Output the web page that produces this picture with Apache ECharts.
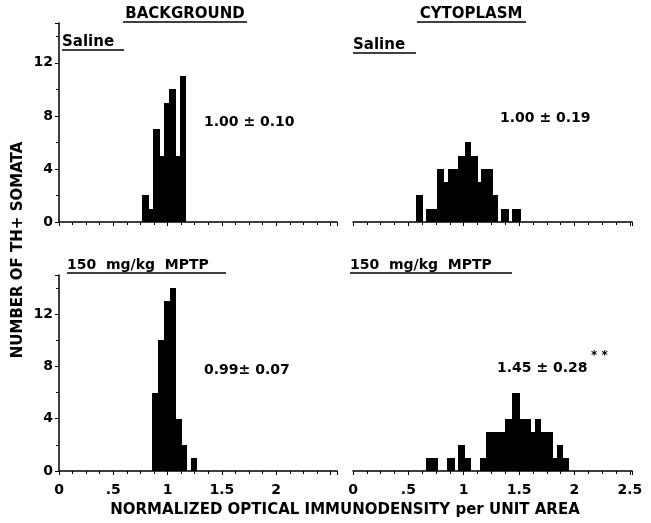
<!DOCTYPE html>
<html>
<head>
<meta charset="utf-8">
<script src="https://cdn.jsdelivr.net/npm/echarts@6/dist/echarts.min.js"></script>
<style>
  html, body { margin: 0; padding: 0; background: #fff; }
  #main { width: 651px; height: 523px; }
</style>
</head>
<body>
<div id="main"></div>
<script>
// histogram bins: bin edges and cell counts
var bgSalineEdges = [0.76, 0.83, 0.87, 0.93, 0.97, 1.01, 1.08, 1.11, 1.17];
var bgSalineCounts = [2, 1, 7, 5, 9, 10, 5, 11];

var bgMptpEdges = [0.86, 0.915, 0.97, 1.02, 1.075, 1.13, 1.18, 1.215, 1.275];
var bgMptpCounts = [6, 10, 13, 14, 4, 2, 0, 1];

var cyTSalineEdges = [0.57, 0.63, 0.66, 0.755, 0.82, 0.86, 0.95, 1.01, 1.07, 1.13, 1.16, 1.26, 1.31, 1.34, 1.41, 1.44, 1.52];
var cyTSalineCounts = [2, 0, 1, 4, 3, 4, 5, 6, 5, 3, 4, 2, 0, 1, 0, 1];

var cyMptpEdges = [0.66, 0.77, 0.85, 0.92, 0.95, 1.01, 1.07, 1.145, 1.20, 1.375, 1.44, 1.505, 1.61, 1.645, 1.70, 1.81, 1.84, 1.90, 1.95];
var cyMptpCounts = [1, 0, 1, 0, 2, 1, 0, 1, 3, 4, 6, 4, 3, 4, 3, 1, 2, 1];

var yTicks = [0, 4, 8, 12];
var xTickLabels = { '0': '0', '0.5': '.5', '1': '1', '1.5': '1.5', '2': '2', '2.5': '2.5' };
var stats = ['1.00 \u00b1 0.10', '1.00 \u00b1 0.19', '0.99\u00b1 0.07', '1.45 \u00b1 0.28'];

var FONT = 'DejaVu Sans';

function bins(edges, counts) {
    var out = [];
    for (var i = 0; i < counts.length; i++) {
        if (counts[i] > 0) out.push([edges[i], edges[i + 1], counts[i]]);
    }
    return out;
}

// snap bin edges to whole pixels so neighbouring bars join without seams
function renderBin(params, api) {
    var p0 = api.coord([api.value(0), api.value(2)]);
    var p1 = api.coord([api.value(1), 0]);
    var x0 = Math.round(p0[0]), x1 = Math.round(p1[0]);
    return {
        type: 'rect',
        shape: { x: x0, y: Math.round(p0[1]), width: x1 - x0, height: Math.round(p1[1]) - Math.round(p0[1]) },
        style: { fill: '#000' }
    };
}

function xAxis(idx, showLabel, max, hideLast) {
    return {
        type: 'value', gridIndex: idx, min: 0, max: max, interval: 0.5,
        axisLine: { lineStyle: { color: '#000', width: 1.5 } },
        axisTick: { length: 4, lineStyle: { color: '#000', width: 1 } },
        minorTick: { show: true, splitNumber: 4, length: 3, lineStyle: { color: '#000' } },
        splitLine: { show: false },
        axisLabel: {
            show: showLabel, margin: 12, color: '#000',
            fontFamily: FONT, fontWeight: 'bold', fontSize: 14,
            formatter: function (v) {
                var k = String(Math.round(v * 100) / 100);
                if (hideLast && k === '2.5') return '';
                return xTickLabels[k] !== undefined ? xTickLabels[k] : '';
            }
        }
    };
}

function yAxis(idx, show) {
    return {
        type: 'value', gridIndex: idx, min: 0, max: 15, interval: 4,
        axisLine: { show: show, lineStyle: { color: '#000', width: 1.5 } },
        axisTick: { show: show, length: 4, lineStyle: { color: '#000' } },
        minorTick: { show: show, splitNumber: 2, length: 3, lineStyle: { color: '#000' } },
        splitLine: { show: false },
        axisLabel: {
            show: show, margin: 6, color: '#000',
            fontFamily: FONT, fontWeight: 'bold', fontSize: 14,
            formatter: function (v) { return yTicks.indexOf(v) >= 0 ? String(v) : ''; }
        }
    };
}

function txt(x, y, s, size, align, extra) {
    var e = {
        type: 'text', x: x, y: y,
        style: {
            text: s, fill: '#000', font: 'bold ' + size + 'px "' + FONT + '"',
            textAlign: align || 'left', textVerticalAlign: 'middle'
        }
    };
    if (extra) for (var k in extra) e[k] = extra[k];
    return e;
}

function uline(x1, x2, y) {
    return { type: 'line', shape: { x1: x1, y1: y, x2: x2, y2: y }, style: { stroke: '#000', lineWidth: 1.5 } };
}

var chart = echarts.init(document.getElementById('main'));

chart.setOption({
    backgroundColor: '#fff',
    animation: false,
    grid: [
        { left: 59, top: 23, width: 278, height: 199 },
        { left: 353, top: 23, width: 279, height: 199 },
        { left: 59, top: 275, width: 278, height: 196 },
        { left: 353, top: 275, width: 279, height: 196 }
    ],
    xAxis: [
        xAxis(0, false, 2.56, true),
        xAxis(1, false, 2.52, false),
        xAxis(2, true, 2.56, true),
        xAxis(3, true, 2.52, false)
    ],
    yAxis: [yAxis(0, true), yAxis(1, false), yAxis(2, true), yAxis(3, false)],
    series: [
        { type: 'custom', xAxisIndex: 0, yAxisIndex: 0, renderItem: renderBin, data: bins(bgSalineEdges, bgSalineCounts) },
        { type: 'custom', xAxisIndex: 1, yAxisIndex: 1, renderItem: renderBin, data: bins(cyTSalineEdges, cyTSalineCounts) },
        { type: 'custom', xAxisIndex: 2, yAxisIndex: 2, renderItem: renderBin, data: bins(bgMptpEdges, bgMptpCounts) },
        { type: 'custom', xAxisIndex: 3, yAxisIndex: 3, renderItem: renderBin, data: bins(cyMptpEdges, cyMptpCounts) }
    ],
    graphic: [
        txt(185, 14, 'BACKGROUND', 15, 'center'), uline(123, 247, 22),
        txt(471, 14, 'CYTOPLASM', 15, 'center'), uline(417, 526, 22),
        txt(62, 42, 'Saline', 15), uline(62, 124, 50),
        txt(353, 45, 'Saline', 15), uline(353, 416, 53),
        txt(67, 265, '150  mg/kg  MPTP', 14), uline(67, 226, 273),
        txt(350, 265, '150  mg/kg  MPTP', 14), uline(350, 512, 273),
        txt(204, 122, stats[0], 14),
        txt(500, 118, stats[1], 14),
        txt(204, 370, stats[2], 14),
        txt(497, 368, stats[3], 14),
        txt(591, 356, '* *', 12),
        txt(18, 250, 'NUMBER OF TH+ SOMATA', 15, 'center', { rotation: Math.PI / 2 }),
        txt(345, 510, 'NORMALIZED OPTICAL IMMUNODENSITY per UNIT AREA', 15, 'center')
    ]
});
</script>
</body>
</html>
